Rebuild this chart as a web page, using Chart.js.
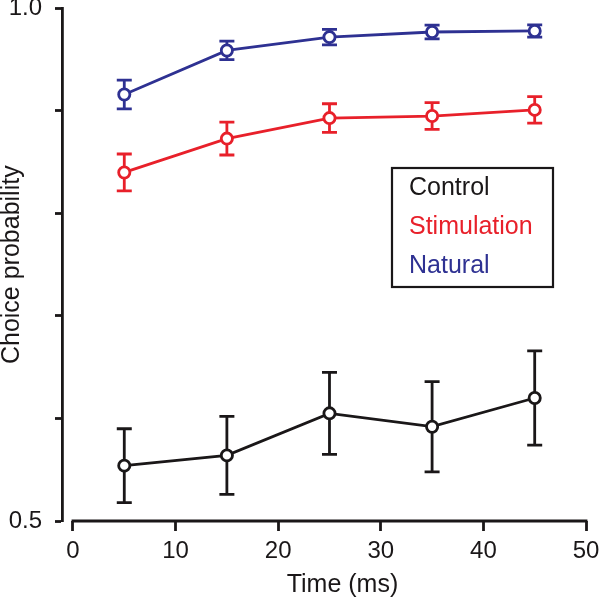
<!DOCTYPE html>
<html>
<head>
<meta charset="utf-8">
<script src="https://cdn.jsdelivr.net/npm/chart.js@4/dist/chart.umd.min.js"></script>
<style>
html,body{margin:0;padding:0;background:#fff;}
#wrap{width:600px;height:600px;}
</style>
</head>
<body>
<div id="wrap"><canvas id="c" width="600" height="600"></canvas></div>
<script>
// ---- data ----
const times = [5, 15, 25, 35, 45];
const controlMean = [0.554, 0.564, 0.605, 0.592, 0.620];
const controlErr  = [0.036, 0.038, 0.040, 0.044, 0.046];
const stimMean    = [0.840, 0.873, 0.893, 0.895, 0.901];
const stimErr     = [0.018, 0.016, 0.014, 0.013, 0.013];
const naturalMean = [0.916, 0.959, 0.972, 0.977, 0.978];
const naturalErr  = [0.014, 0.009, 0.0075, 0.0067, 0.006];
const xTicks = [0, 10, 20, 30, 40, 50];
const yTicks = [0.5, 0.6, 0.7, 0.8, 0.9, 1.0];
const yTickLabels = {0.5: '0.5', 1.0: '1.0'};
const seriesNames = ['Control', 'Stimulation', 'Natural'];

const FONT = 'Liberation Sans, Arial, Helvetica, sans-serif';
const BLACK = '#1a1718', RED = '#e8202a', BLUE = '#2e3192';
const LW = 2.8;

function mk(label, means, errs, color) {
  return {
    label: label,
    data: times.map((t, i) => ({x: t, y: means[i], err: errs[i]})),
    borderColor: color,
    backgroundColor: '#ffffff',
    pointBackgroundColor: '#ffffff',
    pointBorderColor: color,
    pointBorderWidth: LW,
    pointRadius: 5.6,
    borderWidth: LW,
    tension: 0,
    fill: false
  };
}

const errorBars = {
  id: 'errorBars',
  beforeDatasetsDraw(chart) {
    const ctx = chart.ctx, xs = chart.scales.x, ys = chart.scales.y;
    chart.data.datasets.forEach(ds => {
      ctx.save();
      ctx.strokeStyle = ds.borderColor;
      ctx.lineWidth = LW;
      ds.data.forEach(p => {
        const px = xs.getPixelForValue(p.x);
        const top = ys.getPixelForValue(p.y + p.err);
        const bot = ys.getPixelForValue(p.y - p.err);
        ctx.beginPath();
        ctx.moveTo(px, top); ctx.lineTo(px, bot);
        ctx.moveTo(px - 7.5, top); ctx.lineTo(px + 7.5, top);
        ctx.moveTo(px - 7.5, bot); ctx.lineTo(px + 7.5, bot);
        ctx.stroke();
      });
      ctx.restore();
    });
  }
};

const extras = {
  id: 'extras',
  afterDraw(chart) {
    const ctx = chart.ctx, xs = chart.scales.x, ys = chart.scales.y;
    ctx.save();
    // x axis line from first to last tick
    const yb = ys.getPixelForValue(0.5);
    ctx.strokeStyle = BLACK;
    ctx.lineWidth = LW;
    ctx.beginPath();
    ctx.moveTo(xs.getPixelForValue(xTicks[0]) - 1.4, yb);
    ctx.lineTo(xs.getPixelForValue(xTicks[xTicks.length - 1]) + 1.4, yb);
    ctx.stroke();
    // x title
    ctx.fillStyle = BLACK;
    ctx.font = '25px ' + FONT;
    ctx.textAlign = 'center';
    ctx.textBaseline = 'alphabetic';
    const cx = (xs.getPixelForValue(xTicks[0]) + xs.getPixelForValue(xTicks[xTicks.length - 1])) / 2 + 13;
    ctx.fillText('Time (ms)', cx, 592);
    // legend box
    ctx.lineWidth = 2.2;
    ctx.strokeStyle = BLACK;
    ctx.strokeRect(392, 168, 161, 119);
    ctx.textAlign = 'left';
    ctx.textBaseline = 'middle';
    const cols = chart.data.datasets.map(d => d.borderColor);
    seriesNames.forEach((n, i) => {
      ctx.fillStyle = cols[i];
      ctx.fillText(n, 409, 188 + i * 39);
    });
    ctx.restore();
  }
};

new Chart(document.getElementById('c'), {
  type: 'line',
  data: {
    datasets: [
      mk(seriesNames[0], controlMean, controlErr, BLACK),
      mk(seriesNames[1], stimMean, stimErr, RED),
      mk(seriesNames[2], naturalMean, naturalErr, BLUE)
    ]
  },
  options: {
    responsive: false,
    animation: false,
    events: [],
    layout: {padding: {top: 8, right: 14, left: 0, bottom: 0}},
    plugins: {legend: {display: false}, tooltip: {enabled: false}},
    scales: {
      x: {
        type: 'linear',
        min: -1.07,
        max: 50,
        afterBuildTicks: s => { s.ticks = xTicks.map(v => ({value: v})); },
        afterFit: s => { s.height = 79; s.paddingLeft = 0; s.paddingRight = 0; },
        grid: {drawOnChartArea: false, drawTicks: true, tickLength: 10, tickWidth: LW, tickColor: BLACK},
        border: {display: false},
        ticks: {color: BLACK, font: {family: FONT, size: 24}, padding: 6, maxRotation: 0,
                callback: v => String(v)}
      },
      y: {
        type: 'linear',
        min: 0.5,
        max: 1.0,
        afterBuildTicks: s => { s.ticks = yTicks.map(v => ({value: v})); },
        afterFit: s => { s.width = 62; s.paddingTop = 0; s.paddingBottom = 0; },
        grid: {drawOnChartArea: false, drawTicks: true, tickLength: 7, tickWidth: LW, tickColor: BLACK},
        border: {display: true, color: BLACK, width: LW},
        ticks: {color: BLACK, font: {family: FONT, size: 24}, padding: 13,
                callback: v => (yTickLabels[Math.round(v * 10) / 10] || '')},
        title: {display: true, text: 'Choice probability', color: BLACK,
                font: {family: FONT, size: 25, lineHeight: 1}, padding: {top: 0, bottom: 0}}
      }
    }
  },
  plugins: [errorBars, extras]
});
</script>
</body>
</html>
